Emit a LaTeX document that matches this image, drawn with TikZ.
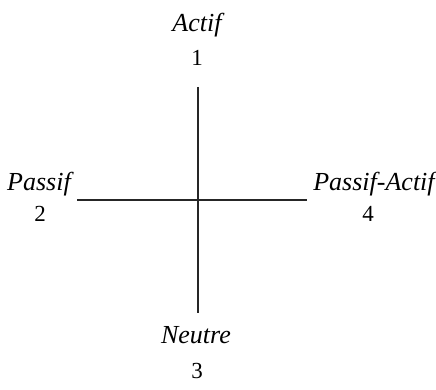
\documentclass[tikz,border=0pt]{standalone}
\usepackage{fontspec}
\setmainfont{Liberation Serif}
\begin{document}
\begin{tikzpicture}[x=1pt,y=-1pt,
  lbl/.style={font=\fontsize{26}{30}\selectfont\itshape, anchor=base, inner sep=0pt},
  num/.style={font=\fontsize{23}{27}\selectfont, anchor=base, inner sep=0pt},
  axis/.style={line width=1.8pt, draw=black!85}]
\useasboundingbox (0,0) rectangle (436,390);
\coordinate (top) at (198,87);
\coordinate (bot) at (198,313);
\coordinate (left) at (77,200);
\coordinate (right) at (307,200);
\draw[axis] (top) -- (bot);
\draw[axis] (left) -- (right);
\node[lbl] (actif) at (197,32) {Actif};
\node[num] (n1) at (197,66) {1};
\node[lbl] (passif) at (39,190) {Passif};
\node[num] (n2) at (40,222) {2};
\node[lbl] (pa) at (374,190) {Passif-Actif};
\node[num] (n4) at (368,222) {4};
\node[lbl] (neutre) at (196,343) {Neutre};
\node[num] (n3) at (197,378) {3};
\end{tikzpicture}
\end{document}
